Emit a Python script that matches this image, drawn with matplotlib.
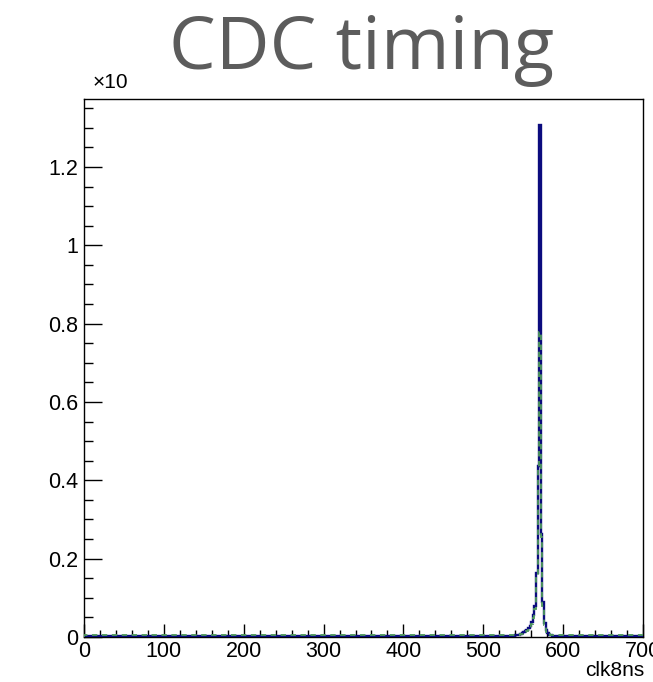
import numpy as np
import matplotlib
matplotlib.use("Agg")
import matplotlib.pyplot as plt
from matplotlib.ticker import MultipleLocator

# Histogram binning (clk8ns units)
bin_width = 2
x_min, x_max = 0, 700

# Flat background level outside the peak window (units of x10)
blue_background = 0.002
green_background = 0.006

# Peak window: first bin edge and per-bin contents
peak_start = 540
blue_peak = [0.004, 0.005, 0.006, 0.008, 0.010, 0.012, 0.015, 0.018,
             0.022, 0.028, 0.038, 0.055, 0.080, 0.163, 0.437, 1.307,
             0.263, 0.090, 0.035, 0.018, 0.010, 0.006, 0.004, 0.003]
green_peak = [0.006, 0.006, 0.006, 0.007, 0.008, 0.010, 0.012, 0.015,
              0.018, 0.024, 0.032, 0.048, 0.072, 0.150, 0.430, 0.779,
              0.255, 0.080, 0.030, 0.014, 0.009, 0.007, 0.006, 0.006]

title_text = "CDC timing"
x_label = "clk8ns"
exponent_label = "\u00d710"

edges = np.arange(x_min, x_max + bin_width, bin_width)
n_bins = len(edges) - 1
first = (peak_start - x_min) // bin_width

blue = np.full(n_bins, blue_background)
blue[first:first + len(blue_peak)] = blue_peak
green = np.full(n_bins, green_background)
green[first:first + len(green_peak)] = green_peak

W, H, DPI = 653, 682, 100
fig = plt.figure(figsize=(W / DPI, H / DPI), dpi=DPI)
ax = fig.add_axes([84 / W, 1 - 637 / H, (643 - 84) / W, (637 - 99) / H])

ax.stairs(blue, edges, color="#0b0b7e", lw=1.7, zorder=3)
ax.stairs(green, edges, color="#4f9a5c", lw=1.3, ls=(0, (3, 2.5)), zorder=4)

ax.set_xlim(x_min, x_max)
ax.set_ylim(0, 1.3735)

ax.xaxis.set_major_locator(MultipleLocator(100))
ax.xaxis.set_minor_locator(MultipleLocator(20))
ax.yaxis.set_major_locator(MultipleLocator(0.2))
ax.yaxis.set_minor_locator(MultipleLocator(0.05))

ax.tick_params(which="both", direction="in", top=False, right=False,
               width=1.0, color="black", labelsize=15.5,
               labelfontfamily="Liberation Sans")
ax.tick_params(axis="y", which="major", length=13, pad=4)
ax.tick_params(axis="y", which="minor", length=6.5)
ax.tick_params(axis="x", which="major", length=9.5, pad=3)
ax.tick_params(axis="x", which="minor", length=5)

ax.yaxis.set_major_formatter(plt.FuncFormatter(lambda v, p: f"{v:g}"))
ax.xaxis.set_major_formatter(plt.FuncFormatter(lambda v, p: f"{v:g}"))

for s in ax.spines.values():
    s.set_linewidth(1.0)
    s.set_color("black")

fig.text(362 / W, 1 - 50 / H, title_text, ha="center", va="center",
         fontsize=53.5, family="Open Sans", color="#5c5c5c")
fig.text(93 / W, 1 - 82 / H, exponent_label, ha="left", va="center",
         fontsize=15, family="Liberation Sans", color="black")
fig.text(644 / W, 1 - 671 / H, x_label, ha="right", va="center",
         fontsize=15, family="Liberation Sans", color="black")

fig.savefig("out.png", dpi=DPI)
